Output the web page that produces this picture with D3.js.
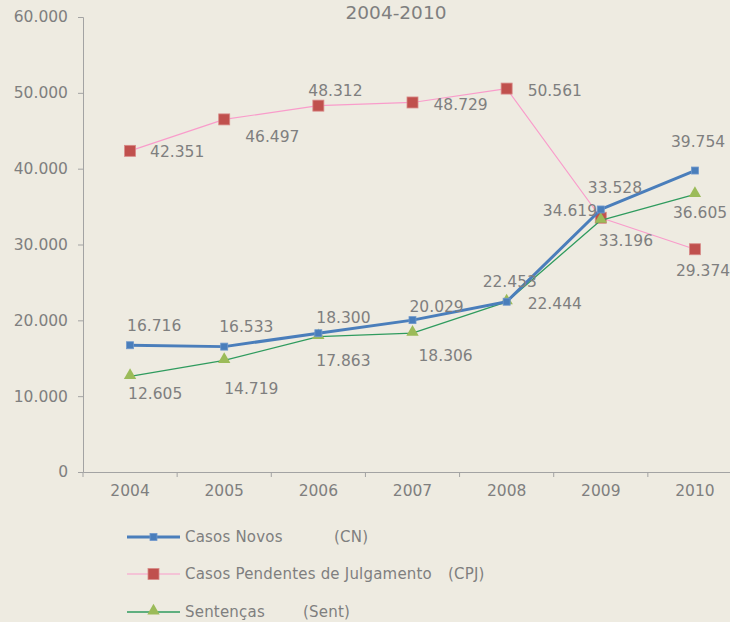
<!DOCTYPE html>
<html>
<head>
<meta charset="utf-8">
<script src="https://cdn.jsdelivr.net/npm/d3@7"></script>
<style>
  body { margin: 0; background: #eeebe1; }
  svg { display: block; font-family: "DejaVu Sans", sans-serif; }
</style>
</head>
<body>
<svg width="730" height="622"></svg>
<script>
var years = ["2004", "2005", "2006", "2007", "2008", "2009", "2010"];
var casosNovos = [16716, 16533, 18300, 20029, 22453, 34619, 39754];
var casosPendentes = [42351, 46497, 48312, 48729, 50561, 33528, 29374];
var sentencas = [12605, 14719, 17863, 18306, 22444, 33196, 36605];
var yTicks = [0, 10000, 20000, 30000, 40000, 50000, 60000];

// label placement per point: [dx from point to text start, dy to text centre]
var cnLabelPos = [[-3, -20], [-5, -20], [-2, -16], [-3, -14], [-24, -20], [-58, 1], [-24, -29]];
var cpjLabelPos = [[20, 1], [21, 17], [-10, -15], [21, 2], [21, 2], [-13, -30], [-19, 21]];
var sentLabelPos = [[-2, 17], [0, 28], [-2, 24], [6, 22], [21, 2], [-2, 20], [-22, 18]];

var svg = d3.select("svg");
var fmt = function (v) { return d3.format(",")(v).replace(/,/g, "."); };

var x = d3.scaleBand().domain(years).range([83, 742]);
var y = d3.scaleLinear().domain([0, 60000]).range([472, 17]);
var cx = function (i) { return x(years[i]) + x.bandwidth() / 2; };

var grey = "#a3a3a3";
var textCol = "#7f7f7f";

// title
svg.append("text")
    .attr("x", 396).attr("y", 19)
    .attr("text-anchor", "middle")
    .style("font-size", "18.5px").style("fill", textCol)
    .text("2004-2010");

// y axis
var yAxis = svg.append("g").attr("transform", "translate(83,0)")
    .call(d3.axisLeft(y).tickValues(yTicks).tickSize(5).tickPadding(10)
        .tickFormat(function (d) { return d === 0 ? "0" : fmt(d); }));
yAxis.select(".domain").attr("stroke", grey);
yAxis.selectAll(".tick line").attr("stroke", grey);
yAxis.selectAll(".tick text").style("font-size", "15.5px").style("fill", textCol)
    .style("font-family", "DejaVu Sans");

// x axis
var xAxis = svg.append("g").attr("transform", "translate(0,472)")
    .call(d3.axisBottom(x).tickSize(0).tickPadding(13));
xAxis.select(".domain").attr("stroke", grey);
xAxis.selectAll(".tick text").style("font-size", "15.5px").style("fill", textCol)
    .style("font-family", "DejaVu Sans");
svg.append("g").selectAll("line")
    .data(years)
    .enter().append("line")
    .attr("x1", function (d) { return x(d); })
    .attr("x2", function (d) { return x(d); })
    .attr("y1", 472).attr("y2", 477)
    .attr("stroke", grey);

var line = d3.line()
    .x(function (d, i) { return cx(i); })
    .y(function (d) { return y(d); });

var series = [
    { values: casosPendentes, stroke: "#f99ccb", width: 1.2, marker: "bigsq", fill: "#c0504d", pos: cpjLabelPos },
    { values: sentencas, stroke: "#2f9b5e", width: 1.3, marker: "tri", fill: "#9bbb59", pos: sentLabelPos },
    { values: casosNovos, stroke: "#4a7ebb", width: 3, marker: "sq", fill: "#4a7ebb", pos: cnLabelPos }
];

function drawMarker(g, s, px, py) {
    if (s.marker === "tri") {
        g.append("path")
            .attr("d", d3.symbol(d3.symbolTriangle, 66)())
            .attr("transform", "translate(" + px + "," + (py - 1) + ")")
            .attr("fill", s.fill);
    } else {
        var sz = s.marker === "bigsq" ? 11 : 7;
        g.append("rect")
            .attr("x", px - sz / 2).attr("y", py - sz / 2)
            .attr("width", sz).attr("height", sz)
            .attr("fill", s.fill)
            .attr("stroke", s.marker === "bigsq" ? "#d88a88" : "#6f98cc")
            .attr("stroke-width", 0.8);
    }
}

series.forEach(function (s) {
    var g = svg.append("g");
    g.append("path")
        .datum(s.values)
        .attr("d", line)
        .attr("fill", "none")
        .attr("stroke", s.stroke)
        .attr("stroke-width", s.width)
        .attr("stroke-linejoin", "round");
    s.values.forEach(function (v, i) {
        drawMarker(g, s, cx(i), y(v));
    });
});

// data labels on top
series.forEach(function (s) {
    svg.append("g").selectAll("text")
        .data(s.values)
        .enter().append("text")
        .attr("x", function (d, i) { return cx(i) + s.pos[i][0]; })
        .attr("y", function (d, i) { return y(d) + s.pos[i][1]; })
        .attr("dy", "0.35em")
        .style("font-size", "15.5px").style("fill", textCol)
        .text(function (d) { return fmt(d); });
});

// legend
var legend = [
    { name: "Casos Novos", abbr: "(CN)", abbrX: 334, y: 537, s: series[2] },
    { name: "Casos Pendentes de Julgamento", abbr: "(CPJ)", abbrX: 448, y: 574, s: series[0] },
    { name: "Sentenças", abbr: "(Sent)", abbrX: 303, y: 612, s: series[1] }
];
legend.forEach(function (l) {
    var g = svg.append("g");
    g.append("line")
        .attr("x1", 127).attr("x2", 180)
        .attr("y1", l.y).attr("y2", l.y)
        .attr("stroke", l.s.stroke)
        .attr("stroke-width", l.s.width);
    drawMarker(g, l.s, 153.5, l.y);
    g.append("text").attr("x", 185).attr("y", l.y).attr("dy", "0.35em")
        .style("font-size", "15px").style("letter-spacing", "0.2px")
        .style("fill", textCol).text(l.name);
    g.append("text").attr("x", l.abbrX).attr("y", l.y).attr("dy", "0.35em")
        .style("font-size", "15px").style("letter-spacing", "0.2px")
        .style("fill", textCol).text(l.abbr);
});
</script>
</body>
</html>
